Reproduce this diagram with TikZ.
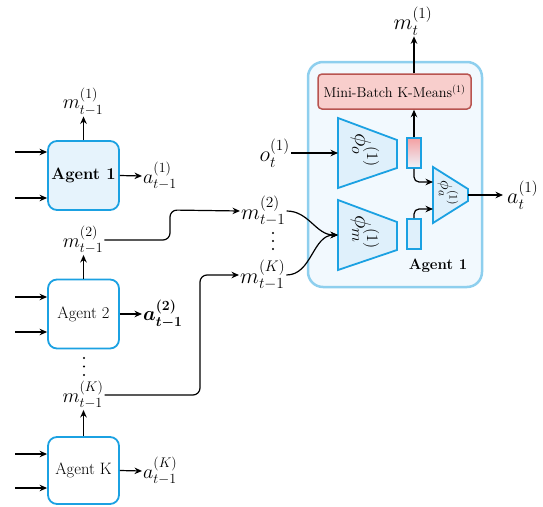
\RequirePackage{fix-cm}
\documentclass[tikz,border=0pt]{standalone}
\usepackage{amsmath,bm}
\usetikzlibrary{arrows.meta}
\definecolor{agblue}{HTML}{1BA1E2}
\definecolor{agfill}{HTML}{E6F3FC}
\definecolor{bigedge}{HTML}{8ECFEE}
\definecolor{bigfill}{HTML}{F2F9FE}
\definecolor{trapfill}{HTML}{DFF0FB}
\definecolor{kmfill}{HTML}{F8CECC}
\definecolor{kmedge}{HTML}{B85450}
\definecolor{gradtop}{HTML}{F4A0A2}
\definecolor{gradbot}{HTML}{EEF5FC}
\begin{document}
\begin{tikzpicture}[x=1pt,y=-1pt,
  agent/.style={draw=agblue, line width=1.8pt, rounded corners=9pt, minimum width=71pt, minimum height=69pt, inner sep=0pt, font=\fontsize{16.5}{19}\selectfont},
  lm/.style={inner sep=1pt, font=\fontsize{20}{24}\selectfont},
  rm/.style={inner sep=1pt, font=\fontsize{22}{26}\selectfont},
  arr/.style={-{Stealth[length=7.5pt,width=6.5pt]}, line width=1.2pt},
  trap/.style={draw=agblue, fill=trapfill, line width=1.8pt, line join=miter},
  smallbox/.style={draw=agblue, line width=1.8pt, minimum width=14pt, minimum height=30pt, inner sep=0pt},
  dotty/.style={fill=black}
]
\useasboundingbox (0,0) rectangle (543,506);

% ---------- left agents ----------
\node[agent, fill=agfill] (ag1) at (83.5,175.5) {\textbf{Agent 1}};
\node[agent, fill=white] (ag2) at (83.5,314) {Agent 2};
\node[agent, fill=white, minimum height=67pt] (agK) at (83.5,470.5) {Agent K};

\coordinate (i1a) at (15,152);
\coordinate (i1b) at (15,198);
\coordinate (i2a) at (15,297);
\coordinate (i2b) at (15,332);
\coordinate (iKa) at (15,454);
\coordinate (iKb) at (15,488);
\foreach \c/\a in {i1a/ag1,i1b/ag1,i2a/ag2,i2b/ag2,iKa/agK,iKb/agK}
  \draw[arr] (\c) -- (\c -| \a.west);

\node[lm] (ml1) at (83,101.5) {$m_{t-1}^{(1)}$};
\node[lm] (ml2) at (83,240) {$m_{t-1}^{(2)}$};
\node[lm] (mlK) at (83,395) {$m_{t-1}^{(K)}$};
\draw[arr] (ag1.north) -- (ag1.north |- ml1.south);
\draw[arr] (ag2.north) -- (ag2.north |- ml2.south);
\draw[arr] (agK.north) -- (agK.north |- mlK.south);
\foreach \y in {358,366.5,375} \fill[dotty] (84,\y) circle (1.1pt);

\node[lm, anchor=west] (a1) at (142,176) {$a_{t-1}^{(1)}$};
\node[lm, anchor=west] (a2) at (142,314) {$\bm{a_{t-1}^{(2)}}$};
\node[lm, anchor=west] (aK) at (142,471) {$a_{t-1}^{(K)}$};
\draw[arr] (ag1.east) -- (a1.west);
\draw[arr] (ag2.east) -- (a2.west);
\draw[arr] (agK.east) -- (aK.west);

% ---------- big agent box ----------
\node[draw=bigedge, fill=bigfill, line width=2.5pt, rounded corners=15pt, minimum width=174pt, minimum height=225pt] (big) at (395,174.5) {};
\node[font=\bfseries\fontsize{15}{17}\selectfont] (lab) at (438,266) {Agent 1};

% ---------- forwarded messages ----------
\node[rm, anchor=west] (mr2) at (240,211) {$m_{t-1}^{(2)}$};
\node[rm, anchor=west] (mrK) at (239,275) {$m_{t-1}^{(K)}$};
\foreach \y in {233,241,249} \fill[dotty] (273,\y) circle (1.1pt);
\draw[arr, rounded corners=7pt] (ml2.east) -- (170,240) -- (170,210) -- (mr2.west);
\draw[arr, rounded corners=7pt] (mlK.east) -- (200,395) -- (200,275) -- (mrK.west);

% ---------- encoders ----------
\draw[trap] (338,118) -- (397,140) -- (397,168) -- (338,188) -- cycle;
\draw[trap] (338,200) -- (397,222) -- (397,250) -- (338,270) -- cycle;
\draw[trap] (433,167) -- (468,189) -- (468,201) -- (433,223) -- cycle;
\coordinate (poin) at (338,153);
\coordinate (pmin) at (338,235);
\coordinate (pa1) at (433,182);
\coordinate (pa2) at (433,209);
\coordinate (paout) at (468,195);
\node[rotate=-90, font=\fontsize{23}{27}\selectfont] (po) at (365,150) {$\phi_o^{(1)}$};
\node[rotate=-90, font=\fontsize{23}{27}\selectfont] (pm) at (365,232) {$\phi_m^{(1)}$};
\node[rotate=-90, font=\fontsize{16.5}{19}\selectfont] (pa) at (448,193) {$\phi_a^{(1)}$};

\node[smallbox, top color=gradtop, bottom color=gradbot] (ro) at (414,153) {};
\node[smallbox, fill=trapfill] (rmm) at (414,234) {};

\node[draw=kmedge, fill=kmfill, line width=1.5pt, rounded corners=4pt, minimum width=153pt, minimum height=35pt, inner sep=0pt, font=\fontsize{14.3}{16}\selectfont] (km) at (394.5,91.5) {Mini-Batch K-Means$^{(1)}$};
\node[rm] (mt) at (413,21) {$m_t^{(1)}$};

\node[rm, anchor=east] (ot) at (291,153) {$o_t^{(1)}$};
\node[rm, anchor=west, inner xsep=4pt] (at) at (503,195) {$a_t^{(1)}$};

\draw[arr] (ot.east) -- (poin);
\draw[arr] (mr2.east) to[out=0,in=180] (pmin);
\draw[arr] (mrK.east) to[out=0,in=180] (pmin);
\draw[arr] (ro.north) -- (ro.north |- km.south);
\draw[arr] (ro.north |- km.north) -- (ro.north |- mt.south);
\draw[arr, rounded corners=5pt] (ro.south) |- (pa1);
\draw[arr, rounded corners=5pt] (rmm.north) |- (pa2);
\draw[arr] (paout) -- (at.west);
\end{tikzpicture}
\end{document}
